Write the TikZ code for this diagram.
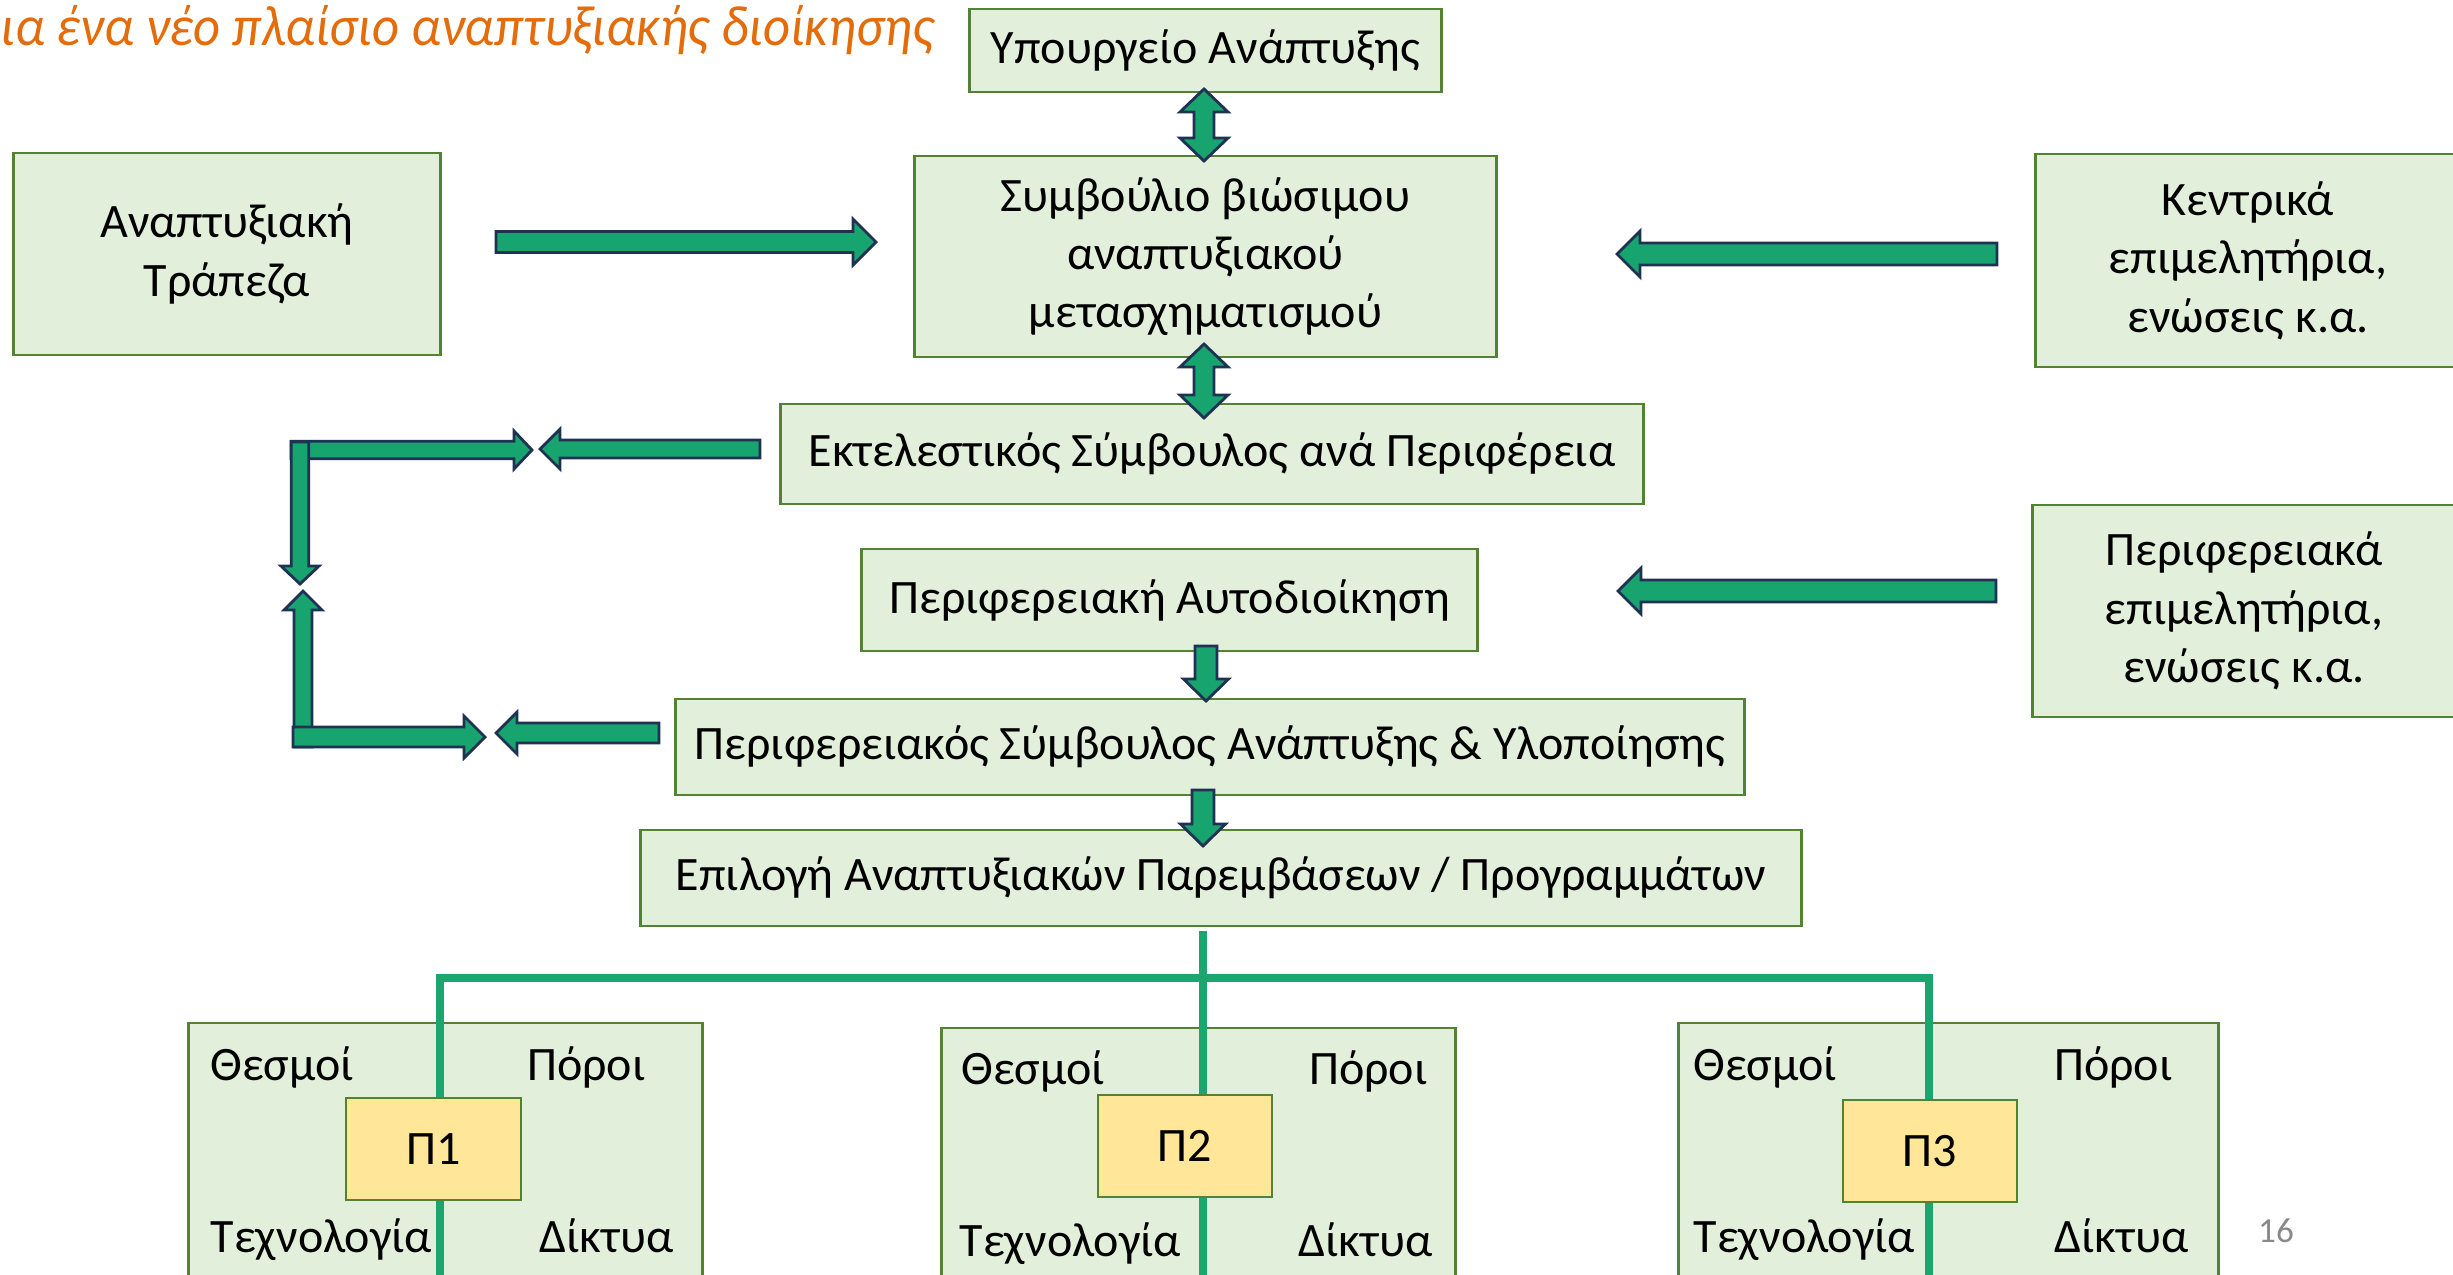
\documentclass[tikz,border=0pt]{standalone}
\usepackage{fontspec}
\setmainfont{Carlito}
\usetikzlibrary{calc}
\definecolor{boxfill}{RGB}{226,239,218}
\definecolor{boxline}{RGB}{84,130,53}
\definecolor{pfill}{RGB}{255,230,153}
\definecolor{arrowfill}{RGB}{24,164,110}
\definecolor{arrowline}{RGB}{31,50,84}
\definecolor{linkgreen}{RGB}{26,166,110}
\definecolor{titleorange}{RGB}{228,108,10}
\definecolor{pagegray}{RGB}{137,137,137}
\tikzset{
  box/.style={draw=boxline, fill=boxfill, line width=0.8pt, inner sep=0pt, align=center,
    font=\fontsize{13.65}{16.6}\selectfont},
  pbox/.style={box, fill=pfill},
  corner/.style={inner sep=0pt, font=\fontsize{13.65}{16.6}\selectfont},
  barrowpath/.style={draw=arrowline, fill=arrowfill, line width=0.8pt, line join=miter},
  link/.style={draw=linkgreen, line width=0.08cm},
  titletext/.style={anchor=base west, inner sep=0pt, text=titleorange,
    font=\fontsize{16.2}{19}\selectfont\itshape, xscale=0.925, transform shape},
}
% block arrow: tail, tip, half shaft, half head, head length
\newcommand{\barrow}[5]{%
  \coordinate (hb) at ($(#2)!#5!(#1)$);
  \path[barrowpath] ($(#1)!#3!90:(#2)$) -- ($(hb)!#3!90:(#2)$) -- ($(hb)!#4!90:(#2)$) -- (#2)
    -- ($(hb)!#4!-90:(#2)$) -- ($(hb)!#3!-90:(#2)$) -- ($(#1)!#3!-90:(#2)$) -- cycle;}
% double block arrow: end, end, half shaft, half head, head length
\newcommand{\dbarrow}[5]{%
  \coordinate (ha) at ($(#1)!#5!(#2)$);
  \coordinate (hb) at ($(#2)!#5!(#1)$);
  \path[barrowpath] (#1) -- ($(ha)!#4!90:(#2)$) -- ($(ha)!#3!90:(#2)$) -- ($(hb)!#3!90:(#2)$)
    -- ($(hb)!#4!90:(#2)$) -- (#2) -- ($(hb)!#4!-90:(#2)$) -- ($(hb)!#3!-90:(#2)$)
    -- ($(ha)!#3!-90:(#2)$) -- ($(ha)!#4!-90:(#2)$) -- cycle;}

\begin{document}
\begin{tikzpicture}[x=0.01cm, y=-0.01cm]
    \useasboundingbox (0,0) rectangle (2453,1275);
    \clip (0,0) rectangle (2453,1275);
    \node[titletext] (title) at (0,45) {ια ένα νέο πλαίσιο αναπτυξιακής διοίκησης};

    % upper chain
    \node[box, minimum width=4.71cm, minimum height=0.83cm] (ministry) at (1205.5,50.5) {Υπουργείο Ανάπτυξης};
    \node[box, minimum width=5.81cm, minimum height=2.01cm] (council) at (1205.5,256.5)
        {Συμβούλιο βιώσιμου\\αναπτυξιακού\\μετασχηματισμού};
    \node[box, minimum width=4.26cm, minimum height=2.02cm] (bank) at (227,254) {Αναπτυξιακή\\Τράπεζα};
    \node[box, minimum width=4.24cm, minimum height=2.13cm] (central) at (2248,260.5)
        {Κεντρικά\\επιμελητήρια,\\ενώσεις κ.α.};
    \node[box, minimum width=8.62cm, minimum height=1.00cm] (exec) at (1212,454)
        {Εκτελεστικός Σύμβουλος ανά Περιφέρεια};
    \node[box, minimum width=6.15cm, minimum height=1.02cm] (regauth) at (1169.5,600)
        {Περιφερειακή Αυτοδιοίκηση};
    \node[box, minimum width=4.22cm, minimum height=2.12cm] (regcham) at (2244,611)
        {Περιφερειακά\\επιμελητήρια,\\ενώσεις κ.α.};
    \node[box, minimum width=10.68cm, minimum height=0.96cm] (regadv) at (1210,747)
        {Περιφερειακός Σύμβουλος Ανάπτυξης \& Υλοποίησης};
    \node[box, minimum width=11.60cm, minimum height=0.96cm] (select) at (1221,878)
        {Επιλογή Αναπτυξιακών Παρεμβάσεων / Προγραμμάτων};

    % block arrows
    \coordinate (m1) at (1204,89);   \coordinate (m2) at (1204,161);
    \coordinate (e1) at (1204,344);  \coordinate (e2) at (1204,418);
    \coordinate (r1) at (1206,646);  \coordinate (r2) at (1206,701);
    \coordinate (s1) at (1203,790);  \coordinate (s2) at (1203,846);
    \coordinate (b1) at (496,242);   \coordinate (b2) at (876,242);
    \coordinate (k1) at (1997,254);  \coordinate (k2) at (1617,254);
    \coordinate (q1) at (1996,591);  \coordinate (q2) at (1618,591);
    \dbarrow{m1}{m2}{0.10cm}{0.24cm}{0.23cm}
    \dbarrow{e1}{e2}{0.10cm}{0.24cm}{0.23cm}
    \barrow{r1}{r2}{0.11cm}{0.225cm}{0.22cm}
    \barrow{s1}{s2}{0.11cm}{0.225cm}{0.22cm}
    \barrow{b1}{b2}{0.105cm}{0.23cm}{0.23cm}
    \barrow{k1}{k2}{0.11cm}{0.23cm}{0.23cm}
    \barrow{q1}{q2}{0.11cm}{0.23cm}{0.23cm}

    % feedback loop on the left
    \coordinate (x1) at (760,449);   \coordinate (x2) at (540,449);
    \coordinate (t1) at (291,450);   \coordinate (t2) at (532,450);
    \coordinate (d1) at (300,442);   \coordinate (d2) at (300,584);
    \coordinate (u1) at (303,747);   \coordinate (u2) at (303,591);
    \coordinate (w1) at (293,737);   \coordinate (w2) at (485,737);
    \coordinate (y1) at (659,733);   \coordinate (y2) at (496,733);
    \barrow{x1}{x2}{0.09cm}{0.20cm}{0.20cm}
    \barrow{t1}{t2}{0.087cm}{0.19cm}{0.18cm}
    \barrow{d1}{d2}{0.087cm}{0.19cm}{0.18cm}
    \barrow{u1}{u2}{0.09cm}{0.19cm}{0.19cm}
    \barrow{w1}{w2}{0.10cm}{0.21cm}{0.21cm}
    \barrow{y1}{y2}{0.10cm}{0.21cm}{0.21cm}

    % programmes
    \node[box, minimum width=5.13cm, minimum height=2.77cm] (prog1) at (445.5,1161.5) {};
    \node[box, minimum width=5.13cm, minimum height=2.72cm] (prog2) at (1198.5,1164) {};
    \node[box, minimum width=5.39cm, minimum height=2.77cm] (prog3) at (1948.5,1161.5) {};
    \coordinate (top) at (1203,931);
    \coordinate (hl) at (440,978);  \coordinate (hm) at (1203,978);  \coordinate (hr) at (1929,978);
    \coordinate (bl) at (440,1290); \coordinate (bm) at (1203,1290); \coordinate (br) at (1929,1290);
    \draw[link] (bl) -- (hl) -- (hr) -- (br);
    \draw[link] (top) -- (bm);
    \node[pbox, minimum width=1.75cm, minimum height=1.02cm] (p1) at (433.5,1149) {Π1};
    \node[pbox, minimum width=1.74cm, minimum height=1.02cm] (p2) at (1185,1146) {Π2};
    \node[pbox, minimum width=1.74cm, minimum height=1.02cm] (p3) at (1930,1151) {Π3};

    \node[corner, anchor=base west] (p1tl) at (210,1080) {Θεσμοί};
    \node[corner, anchor=base east] (p1tr) at (646,1080) {Πόροι};
    \node[corner, anchor=base west] (p1bl) at (210,1252) {Τεχνολογία};
    \node[corner, anchor=base east] (p1br) at (674,1252) {Δίκτυα};
    \node[corner, anchor=base west] (p2tl) at (961,1084) {Θεσμοί};
    \node[corner, anchor=base east] (p2tr) at (1428,1084) {Πόροι};
    \node[corner, anchor=base west] (p2bl) at (959,1256) {Τεχνολογία};
    \node[corner, anchor=base east] (p2br) at (1433,1256) {Δίκτυα};
    \node[corner, anchor=base west] (p3tl) at (1693,1080) {Θεσμοί};
    \node[corner, anchor=base east] (p3tr) at (2173,1080) {Πόροι};
    \node[corner, anchor=base west] (p3bl) at (1693,1252) {Τεχνολογία};
    \node[corner, anchor=base east] (p3br) at (2189,1252) {Δίκτυα};

    \node[inner sep=0pt, text=pagegray, font=\fontsize{10}{12}\selectfont] (page) at (2276,1231) {16};
\end{tikzpicture}
\end{document}
